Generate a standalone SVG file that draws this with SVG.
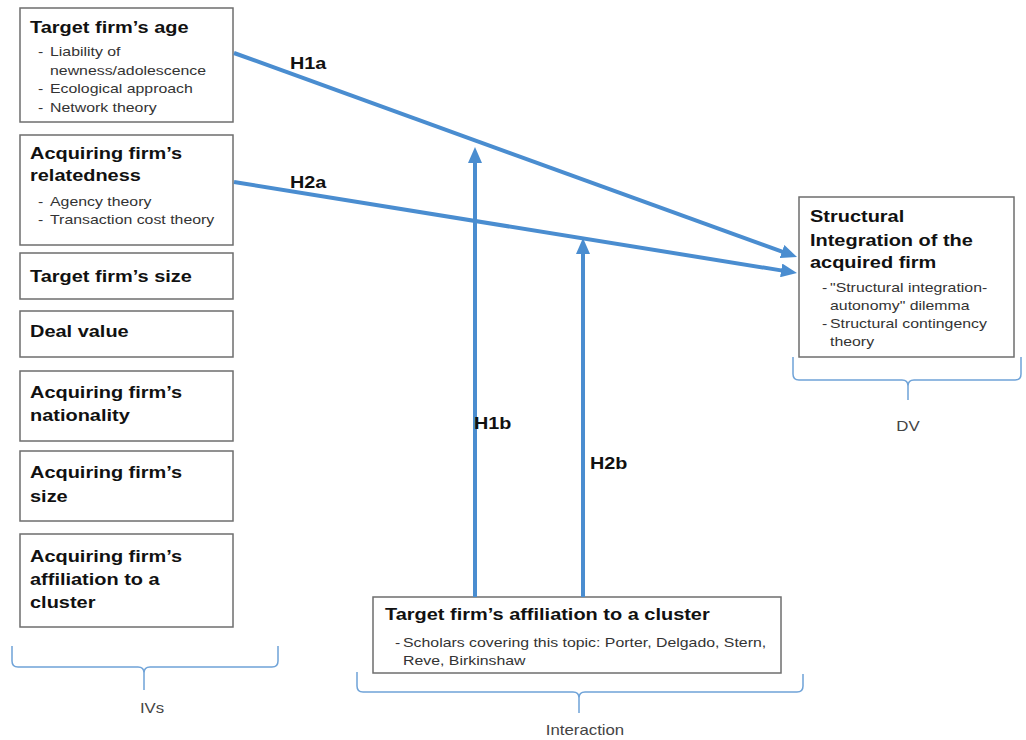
<svg xmlns="http://www.w3.org/2000/svg" width="1026" height="740" viewBox="0 0 1026 740">
<style>
.box{fill:#fff;stroke:#6e6e6e;stroke-width:1.5}
text{font-family:"Liberation Sans",Arial,sans-serif}
.t{font-size:16.5px;font-weight:bold;fill:#111}
.s{font-size:13px;fill:#333}
.c{font-size:14px;fill:#444;text-anchor:middle}
.h{font-size:16.5px;font-weight:bold;fill:#111}
.conn{fill:none;stroke:#4a8dd0;stroke-width:4;marker-end:url(#ah)}
.brace{fill:none;stroke:#6fa3d8;stroke-width:1.5}
</style>
<defs>
<marker id="ah" markerWidth="16" markerHeight="14" refX="6" refY="7" orient="auto" markerUnits="userSpaceOnUse">
<path d="M0,0 L16,7 L0,14 z" fill="#4a8dd0"/>
</marker>
</defs>
<rect width="1026" height="740" fill="#fff"/>

<g id="n-target-age">
<rect class="box" x="20" y="8" width="213" height="114"/>
<text class="t" transform="translate(30,33) scale(1.21,1)">Target firm’s age</text>
<text class="s" transform="translate(38,56) scale(1.22,1)">-</text>
<text class="s" transform="translate(50,56) scale(1.22,1)">Liability of</text>
<text class="s" transform="translate(50,75) scale(1.22,1)">newness/adolescence</text>
<text class="s" transform="translate(38,93) scale(1.22,1)">-</text>
<text class="s" transform="translate(50,93) scale(1.22,1)">Ecological approach</text>
<text class="s" transform="translate(38,112) scale(1.22,1)">-</text>
<text class="s" transform="translate(50,112) scale(1.22,1)">Network theory</text>
</g>

<g id="n-acq-related">
<rect class="box" x="20" y="135" width="213" height="110"/>
<text class="t" transform="translate(30,159) scale(1.21,1)">Acquiring firm’s</text>
<text class="t" transform="translate(30,181) scale(1.21,1)">relatedness</text>
<text class="s" transform="translate(38,206) scale(1.22,1)">-</text>
<text class="s" transform="translate(50,206) scale(1.22,1)">Agency theory</text>
<text class="s" transform="translate(38,224) scale(1.22,1)">-</text>
<text class="s" transform="translate(50,224) scale(1.22,1)">Transaction cost theory</text>
</g>

<g id="n-target-size">
<rect class="box" x="20" y="253" width="213" height="46"/>
<text class="t" transform="translate(30,282) scale(1.21,1)">Target firm’s size</text>
</g>

<g id="n-deal-value">
<rect class="box" x="20" y="311" width="213" height="46"/>
<text class="t" transform="translate(30,337) scale(1.21,1)">Deal value</text>
</g>

<g id="n-acq-nationality">
<rect class="box" x="20" y="371" width="213" height="70"/>
<text class="t" transform="translate(30,398) scale(1.21,1)">Acquiring firm’s</text>
<text class="t" transform="translate(30,421) scale(1.21,1)">nationality</text>
</g>

<g id="n-acq-size">
<rect class="box" x="20" y="451" width="213" height="70"/>
<text class="t" transform="translate(30,478) scale(1.21,1)">Acquiring firm’s</text>
<text class="t" transform="translate(30,502) scale(1.21,1)">size</text>
</g>

<g id="n-acq-cluster">
<rect class="box" x="20" y="534" width="213" height="93"/>
<text class="t" transform="translate(30,562) scale(1.21,1)">Acquiring firm’s</text>
<text class="t" transform="translate(30,585) scale(1.21,1)">affiliation to a</text>
<text class="t" transform="translate(30,608) scale(1.21,1)">cluster</text>
</g>

<g id="n-dv">
<rect class="box" x="799" y="197" width="215" height="160"/>
<text class="t" transform="translate(810,222) scale(1.21,1)">Structural</text>
<text class="t" transform="translate(810,246) scale(1.21,1)">Integration of the</text>
<text class="t" transform="translate(810,268) scale(1.21,1)">acquired firm</text>
<text class="s" transform="translate(822,292) scale(1.22,1)">-</text>
<text class="s" transform="translate(830,292) scale(1.22,1)">"Structural integration-</text>
<text class="s" transform="translate(830,310) scale(1.22,1)">autonomy" dilemma</text>
<text class="s" transform="translate(822,328) scale(1.22,1)">-</text>
<text class="s" transform="translate(830,328) scale(1.22,1)">Structural contingency</text>
<text class="s" transform="translate(830,346) scale(1.22,1)">theory</text>
</g>

<g id="n-target-cluster">
<rect class="box" x="373" y="597" width="408" height="76"/>
<text class="t" transform="translate(385,620) scale(1.21,1)">Target firm’s affiliation to a cluster</text>
<text class="s" transform="translate(395,647) scale(1.22,1)">-</text>
<text class="s" transform="translate(403,647) scale(1.22,1)">Scholars covering this topic: Porter, Delgado, Stern,</text>
<text class="s" transform="translate(403,665) scale(1.22,1)">Reve, Birkinshaw</text>
</g>

<g id="connectors">
<path class="conn" d="M234,53 L787.6,253.6"/>
<path class="conn" d="M234,182 L787.1,271.4"/>
<path class="conn" d="M475,597 L475,157"/>
<path class="conn" d="M583,597 L583,248"/>
<text class="h" transform="translate(290,69) scale(1.2,1)">H1a</text>
<text class="h" transform="translate(290,188) scale(1.2,1)">H2a</text>
<text class="h" transform="translate(474,429) scale(1.2,1)">H1b</text>
<text class="h" transform="translate(590,469) scale(1.2,1)">H2b</text>
</g>

<g id="braces">
<path class="brace" d="M12,646 L12,661 Q12,667 18,667 L138,667 Q144,667 144,673 L144,690 M144,673 Q144,667 150,667 L272,667 Q278,667 278,661 L278,646"/>
<text class="c" transform="translate(152,713) scale(1.2,1)">IVs</text>
<path class="brace" d="M357,672 L357,686 Q357,692 363,692 L573,692 Q579,692 579,698 L579,713 M579,698 Q579,692 585,692 L797,692 Q803,692 803,686 L803,674"/>
<text class="c" transform="translate(585,735) scale(1.2,1)">Interaction</text>
<path class="brace" d="M793,357 L793,374 Q793,380 799,380 L902,380 Q908,380 908,386 L908,400 M908,386 Q908,380 914,380 L1015,380 Q1021,380 1021,374 L1021,357"/>
<text class="c" transform="translate(908,431) scale(1.2,1)">DV</text>
</g>
</svg>
